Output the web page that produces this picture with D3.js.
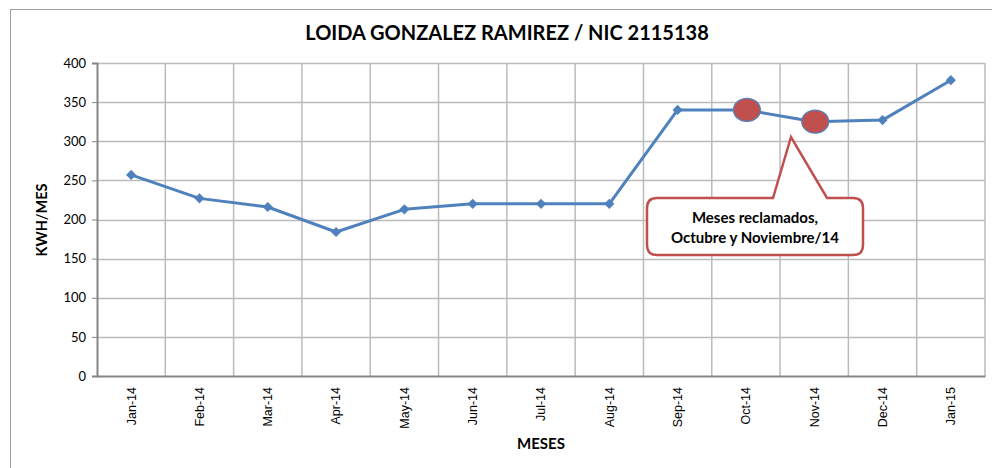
<!DOCTYPE html>
<html><head><meta charset="utf-8">
<script src="https://cdn.jsdelivr.net/npm/d3@7"></script>
<style>body{margin:0;background:#fff}</style>
</head><body>
<svg id="c" width="992" height="468"></svg>
<script>
const months = ["Jan-14","Feb-14","Mar-14","Apr-14","May-14","Jun-14","Jul-14","Aug-14","Sep-14","Oct-14","Nov-14","Dec-14","Jan-15"];
const kwh = [257,227,216,184,213,220,220,220,340,340,325,327,378];
const yTicks = [0,50,100,150,200,250,300,350,400];
const highlighted = ["Oct-14","Nov-14"];
const title = "LOIDA GONZALEZ RAMIREZ / NIC 2115138";
const calloutLines = ["Meses reclamados,","Octubre y Noviembre/14"];

const svg = d3.select("#c");
const L = 97, R = 985, T = 63, B = 376;
const blue = "#4F81BD", red = "#C0504D", grid = "#BBBBBB", axisCol = "#868686";

svg.append("rect").attr("x",10.5).attr("y",9.5).attr("width",1000).attr("height",500)
  .attr("fill","none").attr("stroke","#A0A0A0").attr("stroke-width",1);

const x = d3.scaleBand().domain(months).range([L,R]).padding(0);
const y = d3.scaleLinear().domain([0,400]).range([B,T]);

svg.append("g").selectAll("line").data(yTicks.filter(d=>d>0)).join("line")
  .attr("x1",L).attr("x2",R).attr("y1",d=>Math.round(y(d))+0.5).attr("y2",d=>Math.round(y(d))+0.5)
  .attr("stroke",grid).attr("stroke-width",1.5);
svg.append("g").selectAll("line").data(months.slice(1)).join("line")
  .attr("x1",d=>x(d)).attr("x2",d=>x(d)).attr("y1",T).attr("y2",B)
  .attr("stroke",grid).attr("stroke-width",1.5);
svg.append("line").attr("x1",R).attr("x2",R).attr("y1",T).attr("y2",B).attr("stroke",grid).attr("stroke-width",1.5);

const yAxis = d3.axisLeft(y).tickValues(yTicks).tickSize(5).tickPadding(6);
const gy = svg.append("g").attr("transform",`translate(${L},0)`).call(yAxis);
gy.select(".domain").attr("stroke",axisCol).attr("stroke-width",2);
gy.selectAll(".tick line").attr("stroke",axisCol);
gy.selectAll("text").attr("font-family","Lato, 'Open Sans', sans-serif").attr("font-size",13).attr("fill","#000");

const xAxis = d3.axisBottom(x).tickSize(0).tickPadding(0);
const gx = svg.append("g").attr("transform",`translate(0,${B})`).call(xAxis);
gx.select(".domain").attr("stroke",axisCol).attr("stroke-width",2);
gx.selectAll("text").attr("font-family","'Liberation Sans', Arial, sans-serif").attr("font-size",12.5).attr("fill","#000")
  .attr("transform","rotate(-90)").attr("text-anchor","end").attr("x",-11).attr("y",0).attr("dy","0.35em");

const line = d3.line().x((d,i)=>x(months[i])+x.bandwidth()/2).y(d=>y(d));
svg.append("path").datum(kwh).attr("d",line).attr("fill","none").attr("stroke",blue).attr("stroke-width",3).attr("stroke-linejoin","round");
svg.append("g").selectAll("path").data(kwh).join("path")
  .attr("d",d3.symbol(d3.symbolSquare,52))
  .attr("transform",(d,i)=>`translate(${x(months[i])+x.bandwidth()/2},${y(d)}) rotate(45)`)
  .attr("fill",blue);

svg.append("g").selectAll("ellipse").data(highlighted).join("ellipse")
  .attr("cx",d=>x(d)+x.bandwidth()/2+1).attr("cy",d=>y(kwh[months.indexOf(d)]))
  .attr("rx",13.5).attr("ry",11.5).attr("fill",red).attr("stroke",blue).attr("stroke-width",1.2);

const bx0 = 647, bx1 = 863, by0 = 198, by1 = 255, r = 10;
const tipX = 791, tipY = 137, p0 = 773, p1 = 827;
const cp = `M${bx0+r},${by0} L${p0},${by0} L${tipX},${tipY} L${p1},${by0} L${bx1-r},${by0} Q${bx1},${by0} ${bx1},${by0+r} L${bx1},${by1-r} Q${bx1},${by1} ${bx1-r},${by1} L${bx0+r},${by1} Q${bx0},${by1} ${bx0},${by1-r} L${bx0},${by0+r} Q${bx0},${by0} ${bx0+r},${by0} Z`;
svg.append("path").attr("d",cp).attr("fill","#fff").attr("stroke",red).attr("stroke-width",2.5);
svg.append("g").selectAll("text").data(calloutLines).join("text")
  .attr("x",(bx0+bx1)/2).attr("y",(d,i)=>223+i*20).attr("text-anchor","middle")
  .attr("font-family","Lato, sans-serif").attr("font-weight","bold").attr("font-size",15).attr("fill","#000").text(d=>d);

svg.append("text").attr("x",507).attr("y",40).attr("text-anchor","middle")
  .attr("font-family","Lato, sans-serif").attr("font-weight","bold").attr("font-size",20).text(title);
svg.append("text").attr("transform","translate(47,220) rotate(-90)").attr("text-anchor","middle")
  .attr("font-family","Lato, sans-serif").attr("font-weight","bold").attr("font-size",14.5).text("KWH/MES");
svg.append("text").attr("x",541).attr("y",449).attr("text-anchor","middle")
  .attr("font-family","Lato, sans-serif").attr("font-weight","bold").attr("font-size",15).text("MESES");
</script>
</body></html>
